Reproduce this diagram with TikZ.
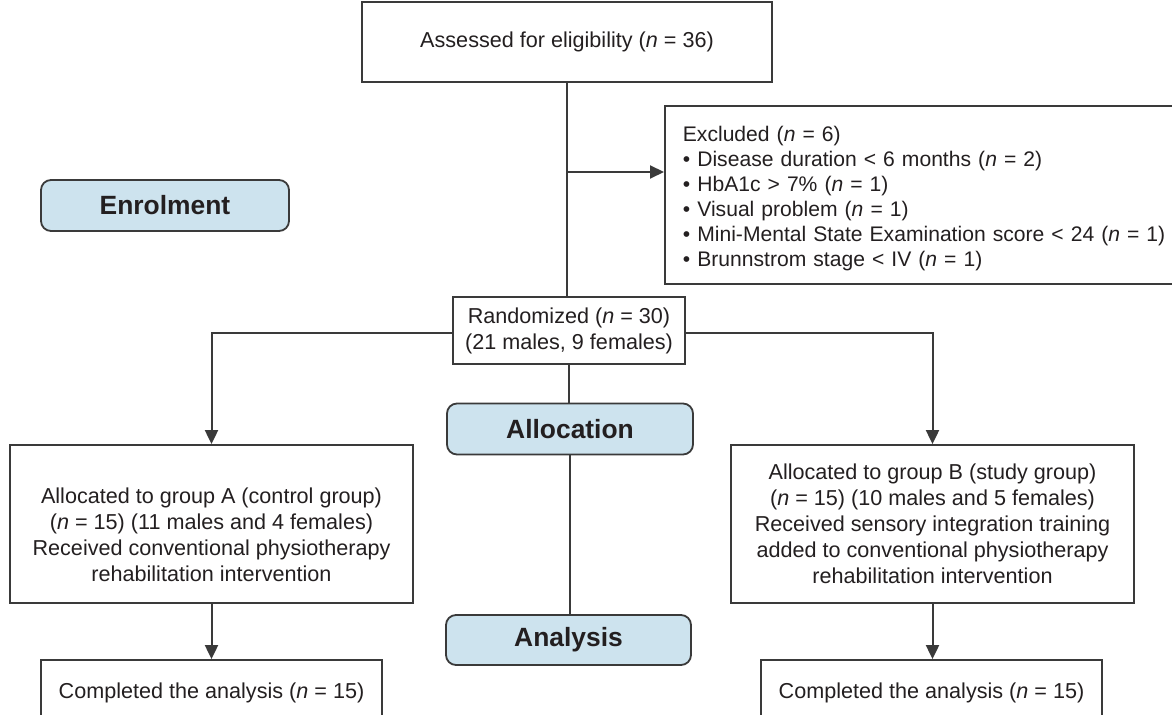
\documentclass[tikz,border=0pt]{standalone}
\usepackage{fontspec}
\setmainfont{Liberation Sans}
\usetikzlibrary{arrows.meta}
\definecolor{stagefill}{HTML}{CDE3EE}
\definecolor{linegray}{HTML}{3A3A3A}
\definecolor{inkgray}{HTML}{231F20}
\tikzset{
  box/.style={draw=linegray,line width=0.9pt,fill=white,align=center,
    text=inkgray,font=\fontsize{10.8}{13}\selectfont,inner sep=0pt},
  stage/.style={draw=linegray,line width=0.9pt,fill=stagefill,rounded corners=5pt,
    text=inkgray,font=\fontsize{13.2}{15}\selectfont\bfseries,inner sep=0pt},
  link/.style={draw=linegray,line width=1pt},
  arr/.style={link,-{Triangle[length=7pt,width=6.5pt]}},
}
\begin{document}
\begin{tikzpicture}[x=0.5pt,y=-0.5pt]
      \useasboundingbox (0,0) rectangle (1172,715);
      \clip (0,0) rectangle (1172,715);
      \begin{scope}[every node/.style={box}]
        \node[minimum width=205pt,minimum height=40pt] (assess) at (567,42)
          {Assessed for eligibility (\emph{n} = 36)};
        \node[anchor=north west,minimum height=89pt,inner xsep=9pt,
              text width=262pt,align=left,font=\fontsize{10.55}{12.5}\selectfont] (excl) at (664,105)
          {\rule{0pt}{11pt}Excluded (\emph{n} = 6)\\
           • Disease duration < 6 months (\emph{n} = 2)\\
           • HbA1c > 7\% (\emph{n} = 1)\\
           • Visual problem (\emph{n} = 1)\\
           • Mini-Mental State Examination score < 24 (\emph{n} = 1)\\
           • Brunnstrom stage < IV (\emph{n} = 1)};
        \node[minimum width=116pt,minimum height=33.5pt] (rand) at (569,330.5)
          {Randomized (\emph{n} = 30)\\(21 males, 9 females)};
        \node[minimum width=201.5pt,minimum height=79pt] (grpA) at (211.5,524)
          {\rule{0pt}{19pt}Allocated to group A (control group)\\
           (\emph{n} = 15) (11 males and 4 females)\\
           Received conventional physiotherapy\\
           rehabilitation intervention};
        \node[minimum width=201.5pt,minimum height=79pt] (grpB) at (932.5,524)
          {Allocated to group B (study group)\\
           (\emph{n} = 15) (10 males and 5 females)\\
           Received sensory integration training\\
           added to conventional physiotherapy\\
           rehabilitation intervention};
        \node[minimum width=170.5pt,minimum height=33pt] (compA) at (211.5,693)
          {Completed the analysis (\emph{n} = 15)};
        \node[minimum width=170.5pt,minimum height=33pt] (compB) at (931.5,693)
          {Completed the analysis (\emph{n} = 15)};
      \end{scope}
      \begin{scope}[every node/.style={stage}]
        \node[minimum width=124pt,minimum height=25.5pt] (enrol) at (165,205.5) {Enrolment};
        \node[minimum width=123pt,minimum height=25.5pt] (alloc) at (570,429) {Allocation};
        \node[minimum width=122.5pt,minimum height=25pt] (anal) at (568.5,640) {Analysis};
      \end{scope}
      \coordinate (split) at (568,172);
      \draw[link] (assess.south) -- (assess.south |- rand.north);
      \draw[arr] (split) -- (split -| excl.west);
      \draw[link] (rand.south) -- (rand.south |- alloc.north);
      \draw[link] (alloc.south) -- (alloc.south |- anal.north);
      \draw[arr] ([yshift=-1.5pt]rand.west) -| (grpA.north);
      \draw[arr] ([yshift=-1.5pt]rand.east) -| (grpB.north);
      \draw[arr] (grpA.south) -- (grpA.south |- compA.north);
      \draw[arr] (grpB.south) -- (grpB.south |- compB.north);
    \end{tikzpicture}
\end{document}
